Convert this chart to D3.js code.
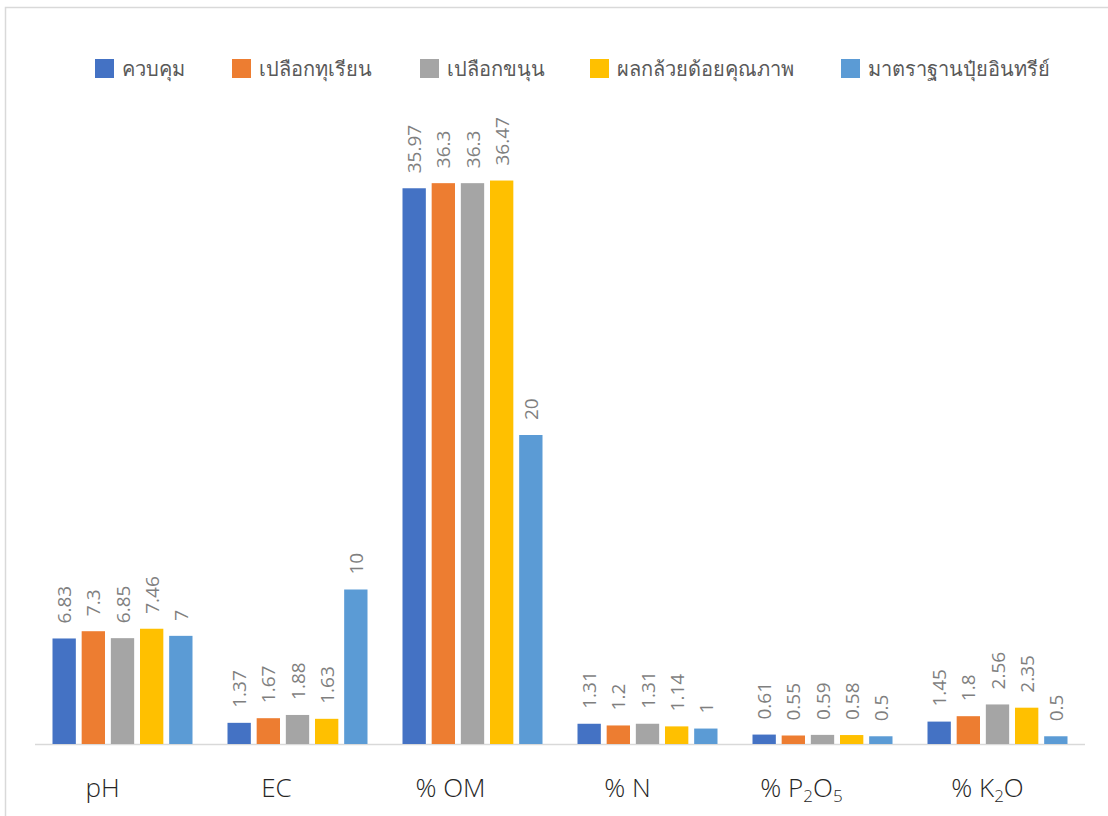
<!DOCTYPE html>
<html>
<head>
<meta charset="utf-8">
<script src="https://cdn.jsdelivr.net/npm/d3@7"></script>
<style>
  body { margin: 0; background: #fff; }
  text { font-family: "Open Sans", "Noto Sans", "Noto Sans CJK SC", sans-serif; }
</style>
</head>
<body>
<svg width="1108" height="816"></svg>
<script>
var categories = ['pH', 'EC', '% OM', '% N', '% P2O5', '% K2O'];
var seriesNames = ['ควบคุม', 'เปลือกทุเรียน', 'เปลือกขนุน', 'ผลกล้วยด้อยคุณภาพ', 'มาตราฐานปุ๋ยอินทรีย์'];
var control = [6.83, 1.37, 35.97, 1.31, 0.61, 1.45];
var durian = [7.3, 1.67, 36.3, 1.2, 0.55, 1.8];
var jackfruit = [6.85, 1.88, 36.3, 1.31, 0.59, 2.56];
var banana = [7.46, 1.63, 36.47, 1.14, 0.58, 2.35];
var standard = [7, 10, 20, 1, 0.5, 0.5];
var colors = ['#4472C4', '#ED7D31', '#A5A5A5', '#FFC000', '#5B9BD5'];

var allSeries = [control, durian, jackfruit, banana, standard];

var svgWidth = 1108, svgHeight = 816;
var margin = { left: 35, right: 23, top: 126, baseline: 744 };
// the category labels in the original sit a little left of their groups
var labelNudge = [-20, -21, -22, -20, -21, -10];

var svg = d3.select('svg');

// chart frame
svg.append('path')
  .attr('d', 'M5.5,' + svgHeight + 'V7.5H' + svgWidth)
  .attr('fill', 'none')
  .attr('stroke', '#d9d9d9')
  .attr('stroke-width', 1.5);

var x0 = d3.scaleBand()
  .domain(categories)
  .range([margin.left, svgWidth - margin.right])
  .paddingInner(0.2)
  .paddingOuter(0.1);

var x1 = d3.scaleBand()
  .domain(d3.range(seriesNames.length))
  .range([0, x0.bandwidth()])
  .paddingInner(0.2);

var y = d3.scaleLinear()
  .domain([0, 40])
  .range([margin.baseline, margin.top]);

// baseline
svg.append('line')
  .attr('x1', margin.left).attr('x2', svgWidth - margin.right)
  .attr('y1', margin.baseline + 0.5).attr('y2', margin.baseline + 0.5)
  .attr('stroke', '#d9d9d9')
  .attr('stroke-width', 1.5);

var groups = svg.selectAll('g.series')
  .data(allSeries)
  .enter()
  .append('g')
  .attr('class', 'series')
  .attr('fill', (d, i) => colors[i]);

groups.each(function(vals, si) {
  var g = d3.select(this);
  g.selectAll('rect')
    .data(vals)
    .enter()
    .append('rect')
    .attr('x', (d, i) => x0(categories[i]) + x1(si))
    .attr('y', d => y(d))
    .attr('width', x1.bandwidth())
    .attr('height', d => y(0) - y(d));

  // value labels, rotated
  g.selectAll('text')
    .data(vals)
    .enter()
    .append('text')
    .attr('transform', (d, i) => 'translate(' + (x0(categories[i]) + x1(si) + x1.bandwidth() / 2 + 7) + ',' + (y(d) - 15) + ')rotate(-90)')
    .attr('fill', '#7f7f7f')
    .attr('font-size', '19px')
    .attr('text-anchor', 'start')
    .text(d => d);
});

// category labels with subscripts
var catLabels = svg.append('g');
categories.forEach(function(c, ci) {
  var t = catLabels.append('text')
    .attr('x', x0(c) + x0.bandwidth() / 2 + labelNudge[ci])
    .attr('y', 797)
    .attr('text-anchor', 'middle')
    .attr('font-size', '26px')
    .attr('font-weight', 300)
    .attr('fill', '#262626');
  var parts = c.split(/(\d)/).filter(p => p !== '');
  var down = false;
  parts.forEach(function(p) {
    if (/^\d$/.test(p)) {
      t.append('tspan').attr('font-size', '17px').attr('dy', 5).text(p);
      down = true;
    } else {
      t.append('tspan').attr('dy', down ? -5 : 0).text(p);
      down = false;
    }
  });
});

// legend
var legendX = [95, 232, 420, 590, 841];
var legend = svg.selectAll('g.legend')
  .data(seriesNames)
  .enter()
  .append('g')
  .attr('class', 'legend')
  .attr('transform', (d, i) => 'translate(' + legendX[i] + ',59)');

legend.append('rect')
  .attr('width', 19)
  .attr('height', 19)
  .attr('fill', (d, i) => colors[i]);

legend.append('text')
  .attr('x', 27)
  .attr('y', 17)
  .attr('font-size', '20px')
  .attr('font-weight', 300)
  .attr('fill', '#595959')
  .text(d => d);
</script>
</body>
</html>
